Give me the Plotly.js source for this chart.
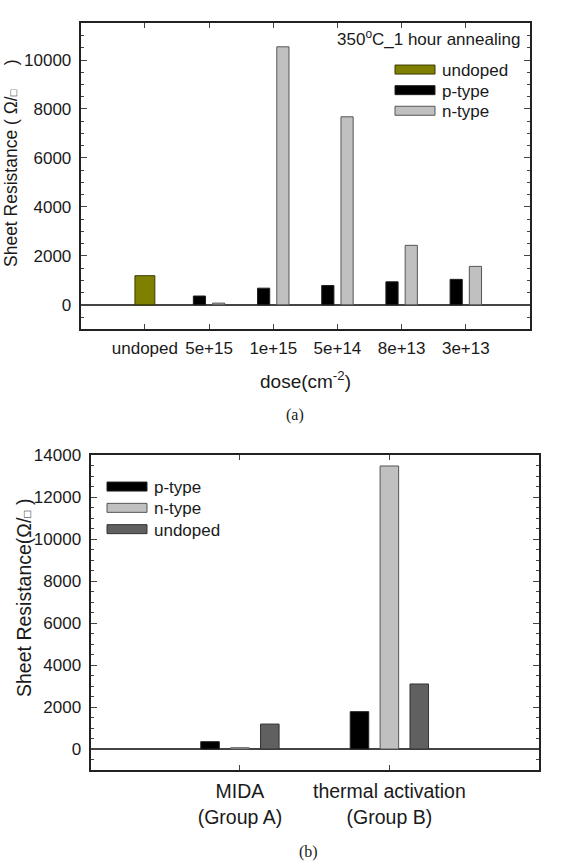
<!DOCTYPE html>
<html>
<head>
<meta charset="utf-8">
<script src="https://cdn.plot.ly/plotly-3.0.1.min.js"></script>
<style>html,body{margin:0;padding:0;background:#fff;}</style>
</head>
<body>
<div id="chart" style="width:574px;height:862px;"></div>
<script>
// ---- Panel (a) data ----
const doseCategories = ['undoped', '5e+15', '1e+15', '5e+14', '8e+13', '3e+13'];
const doseDoped = ['5e+15', '1e+15', '5e+14', '8e+13', '3e+13'];
const aUndopedX = ['undoped'];
const aUndopedY = [1190];
const aPTypeY = [360, 680, 790, 940, 1040];
const aNTypeY = [70, 10540, 7680, 2430, 1570];

// ---- Panel (b) data ----
const groupCategories = ['MIDA<br>(Group A)', 'thermal activation<br>(Group B)'];
const bPTypeY = [350, 1780];
const bNTypeY = [60, 13490];
const bUndopedY = [1190, 3100];

const FONT = 'Liberation Sans, Arial, Helvetica, sans-serif';
const SERIF = 'Liberation Serif, Times New Roman, serif';
const W = 574, H = 862;
const px = v => v / W;
const py = v => 1 - v / H;
const NB = '\u00A0';

const traces = [
  {type:'bar', name:'undoped', x:aUndopedX, y:aUndopedY, xaxis:'x', yaxis:'y', legend:'legend',
   width:0.31, offset:-0.155, marker:{color:'#808000', line:{color:'#3a3a00', width:1}}},
  {type:'bar', name:'p-type', x:doseDoped, y:aPTypeY, xaxis:'x', yaxis:'y', legend:'legend',
   width:0.19, offset:-0.245, marker:{color:'#000000', line:{color:'#222222', width:1}}},
  {type:'bar', name:'n-type', x:doseDoped, y:aNTypeY, xaxis:'x', yaxis:'y', legend:'legend',
   width:0.19, offset:0.055, marker:{color:'#c0c0c0', line:{color:'#555555', width:1}}},

  {type:'bar', name:'p-type', x:groupCategories, y:bPTypeY, xaxis:'x2', yaxis:'y2', legend:'legend2',
   width:0.124, offset:-0.262, marker:{color:'#000000', line:{color:'#222222', width:1}}},
  {type:'bar', name:'n-type', x:groupCategories, y:bNTypeY, xaxis:'x2', yaxis:'y2', legend:'legend2',
   width:0.124, offset:-0.062, marker:{color:'#c0c0c0', line:{color:'#555555', width:1}}},
  {type:'bar', name:'undoped', x:groupCategories, y:bUndopedY, xaxis:'x2', yaxis:'y2', legend:'legend2',
   width:0.124, offset:0.138, marker:{color:'#606060', line:{color:'#333333', width:1}}}
];

const frame = {showline:true, linewidth:2, linecolor:'#222', mirror:'allticks',
  ticks:'inside', tickcolor:'#444', tickwidth:1, showgrid:false, fixedrange:true};

const layout = {
  width:W, height:H,
  margin:{l:0, r:0, t:0, b:0},
  paper_bgcolor:'#ffffff', plot_bgcolor:'#ffffff',
  font:{family:FONT, color:'#1a1a1a', size:17},
  barmode:'overlay',
  showlegend:true,
  xaxis:Object.assign({}, frame, {
    domain:[px(80.7), px(530)], anchor:'y', type:'category',
    categoryorder:'array', categoryarray:doseCategories, range:[-1, 6],
    ticklen:5, zeroline:false, tickfont:{size:17, family:FONT, color:'#1a1a1a'}, ticklabelstandoff:2
  }),
  yaxis:Object.assign({}, frame, {
    domain:[py(329.3), py(23.3)], anchor:'x', range:[-1000, 11500],
    tick0:0, dtick:2000, ticklen:6, tickformat:'d',
    minor:{dtick:500, ticklen:3, ticks:'inside', tickcolor:'#444', showgrid:false},
    zeroline:true, zerolinecolor:'#444', zerolinewidth:1.5,
    tickfont:{size:17, family:FONT, color:'#1a1a1a'}, ticklabelstandoff:4
  }),
  xaxis2:Object.assign({}, frame, {
    domain:[px(90.5), px(538.8)], anchor:'y2', type:'category',
    categoryorder:'array', categoryarray:groupCategories, range:[-1, 2],
    ticklen:5, zeroline:false, tickfont:{size:19.5, family:FONT, color:'#1a1a1a'}, ticklabelstandoff:3
  }),
  yaxis2:Object.assign({}, frame, {
    domain:[py(770), py(455.3)], anchor:'x2', range:[-1000, 14000],
    tick0:0, dtick:2000, ticklen:6, tickformat:'d',
    minor:{dtick:500, ticklen:3, ticks:'inside', tickcolor:'#444', showgrid:false},
    zeroline:true, zerolinecolor:'#444', zerolinewidth:1.5,
    tickfont:{size:17, family:FONT, color:'#1a1a1a'}, ticklabelstandoff:4
  }),
  legend:{x:px(388), y:py(52), xanchor:'left', yanchor:'top', bgcolor:'rgba(0,0,0,0)',
    borderwidth:0, font:{size:17, family:FONT, color:'#1a1a1a'}, itemwidth:44, tracegroupgap:0},
  legend2:{x:px(100), y:py(469), xanchor:'left', yanchor:'top', bgcolor:'rgba(0,0,0,0)',
    borderwidth:0, font:{size:17, family:FONT, color:'#1a1a1a'}, itemwidth:44, tracegroupgap:0},
  annotations:[
    {text:'350<sup>o</sup>C_1 hour annealing', xref:'paper', yref:'paper', x:px(522), y:py(38),
     xanchor:'right', yanchor:'middle', showarrow:false, font:{size:17, family:FONT, color:'#1a1a1a'}},
    {text:'Sheet Resistance ( \u03A9/<span style="font-size:11px">\u25A1</span>' + NB.repeat(5) + ')', xref:'paper', yref:'paper',
     x:px(11), y:py(164), xanchor:'center', yanchor:'middle', textangle:-90, showarrow:false,
     font:{size:17.5, family:FONT, color:'#1a1a1a'}},
    {text:'dose(cm<sup>-2</sup>)', xref:'paper', yref:'paper', x:px(305), y:py(380),
     xanchor:'center', yanchor:'middle', showarrow:false, font:{size:19, family:FONT, color:'#1a1a1a'}},
    {text:'(a)', xref:'paper', yref:'paper', x:px(295), y:py(415),
     xanchor:'center', yanchor:'middle', showarrow:false, font:{size:16, family:SERIF, color:'#1a1a1a'}},
    {text:'Sheet Resistance(\u03A9/<span style="font-size:12px">\u25A1</span>' + NB + ')', xref:'paper', yref:'paper',
     x:px(24), y:py(598), xanchor:'center', yanchor:'middle', textangle:-90, showarrow:false,
     font:{size:19.5, family:FONT, color:'#1a1a1a'}},
    {text:'(b)', xref:'paper', yref:'paper', x:px(308), y:py(852),
     xanchor:'center', yanchor:'middle', showarrow:false, font:{size:16, family:SERIF, color:'#1a1a1a'}}
  ]
};

Plotly.newPlot('chart', traces, layout, {staticPlot:true, displayModeBar:false}).then(function(gd){
  // flat rectangular swatches and tighter rows, as in the reference legends
  const spacing = {legend:20.6, legend2:21.3};
  Object.keys(spacing).forEach(function(id){
    const g = gd.querySelector('g.' + id);
    if (!g) return;
    g.querySelectorAll('.legendpoints path').forEach(function(p){
      p.setAttribute('d', 'M20,4.5H-20V-4.5H20Z');
    });
    const items = g.querySelectorAll('g.traces');
    let y0 = null;
    items.forEach(function(it, i){
      const t = it.getAttribute('transform') || '';
      const m = t.match(/translate\(\s*([-\d.e]+)[ ,]+([-\d.e]+)\s*\)/);
      if (!m) return;
      const x = parseFloat(m[1]), y = parseFloat(m[2]);
      if (y0 === null) y0 = y;
      it.setAttribute('transform', 'translate(' + x + ',' + (y0 + i * spacing[id]) + ')');
    });
  });
});
</script>
</body>
</html>
